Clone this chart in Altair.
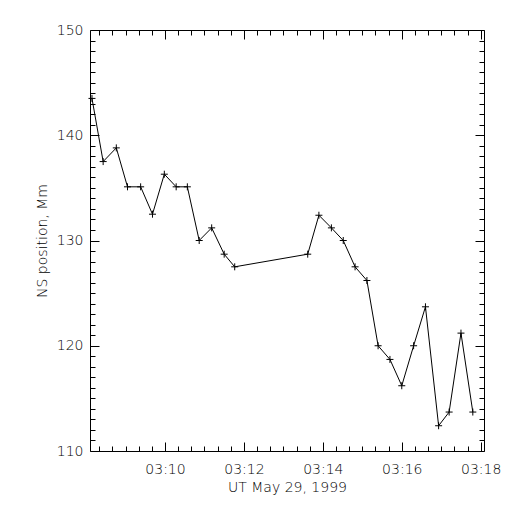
import altair as alt
import pandas as pd

# seconds after 03:00:00 UT
times = [489, 506, 526, 543, 563, 581, 599, 617, 634, 652, 671, 690, 706,
         817, 834, 853, 871, 889, 907, 924, 942, 960, 978, 996, 1016, 1032, 1050, 1068]
positions = [143.5, 137.5, 138.8, 135.1, 135.1, 132.5, 136.3, 135.1, 135.1, 130.0, 131.2, 128.7, 127.5,
             128.7, 132.4, 131.2, 130.0, 127.5, 126.2, 120.0, 118.7, 116.2, 120.0, 123.7, 112.4, 113.7, 121.2, 113.7]

x_major = [600, 720, 840, 960, 1080]
x_minor = list(range(500, 1085, 20))
y_major = [110, 120, 130, 140, 150]
y_minor = list(range(110, 151, 1))
x_domain = [486, 1085]
y_domain = [110, 150]

W, H = 394, 421
FONT = "DejaVu Sans"
FW = 300

df = pd.DataFrame({"t": times, "v": positions})

xs = alt.Scale(domain=x_domain, nice=False, zero=False)
ys = alt.Scale(domain=y_domain, nice=False, zero=False)

xtick = {"condition": {"test": "datum.value % 120 === 0", "value": 9}, "value": 5}
ytick = {"condition": {"test": "datum.value % 10 === 0", "value": 9}, "value": 5}

base = alt.Chart(df)

line = base.mark_line(color="black", strokeWidth=1).encode(
    x=alt.X("t:Q", scale=xs, axis=alt.Axis(
        orient="bottom", values=x_major, ticks=False, domain=False, grid=False,
        labelExpr="'03:' + format(datum.value/60, '02d')",
        labelFont=FONT, labelFontSize=14, labelFontWeight=FW, labelColor="black",
        labelBaseline="alphabetic", labelPadding=22, labelFlush=False, labelOverlap=False,
        title="UT May 29, 1999", titleFont=FONT, titleFontSize=14, titleFontWeight=FW,
        titleColor="black", titleBaseline="alphabetic", titleY=40, titleX=W / 2)),
    y=alt.Y("v:Q", scale=ys, axis=alt.Axis(
        orient="left", values=y_major, ticks=False, domain=False, grid=False,
        labelFont=FONT, labelFontSize=14, labelFontWeight=FW, labelColor="black", labelPadding=7,
        title="NS position, Mm", titleFont=FONT, titleFontSize=14, titleFontWeight=FW,
        titleColor="black", titleBaseline="alphabetic", titleX=-44, titleY=H / 2, titleAngle=270)),
)

points = base.mark_point(
    shape="M-1,0L1,0M0,-1L0,1", size=49, filled=False, stroke="black", strokeWidth=1, opacity=1
).encode(
    x=alt.X("t:Q", scale=xs, axis=alt.Axis(
        orient="top", offset=-H, values=x_minor, labels=False, domain=False, grid=False,
        tickSize=xtick, tickColor="black", tickWidth=1, title=None)),
    y=alt.Y("v:Q", scale=ys, axis=alt.Axis(
        orient="right", offset=-W, values=y_minor, labels=False, domain=False, grid=False,
        tickSize=ytick, tickColor="black", tickWidth=1, title=None)),
)

ghost = base.mark_line(strokeOpacity=0).encode(
    x=alt.X("t:Q", scale=xs, axis=alt.Axis(
        orient="bottom", offset=-H, values=x_minor, labels=False, domain=False, grid=False,
        tickSize=xtick, tickColor="black", tickWidth=1, title=None)),
    y=alt.Y("v:Q", scale=ys, axis=alt.Axis(
        orient="left", offset=-W, values=y_minor, labels=False, domain=False, grid=False,
        tickSize=ytick, tickColor="black", tickWidth=1, title=None)),
)

chart = alt.layer(line, points, ghost).resolve_axis(x="independent", y="independent").properties(
    width=W, height=H,
    autosize=alt.AutoSizeParams(type="none"),
    padding={"left": 82, "top": 22, "right": 20, "bottom": 50},
    background="white",
).configure_view(stroke="black", strokeWidth=1)

chart.save("out.html", embed_options={"renderer": "svg", "actions": False})
